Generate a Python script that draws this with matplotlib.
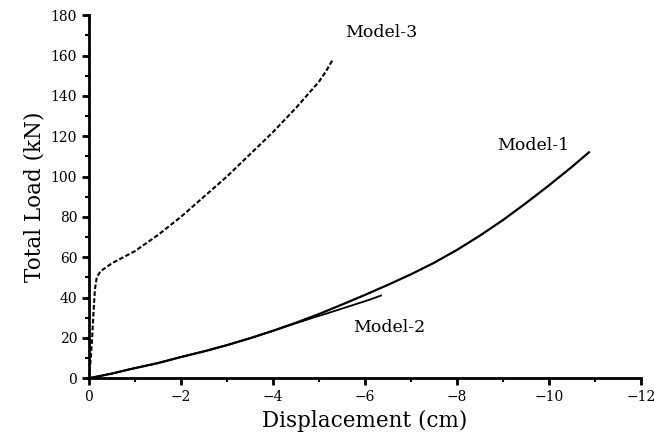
import numpy as np
import matplotlib.pyplot as plt
from matplotlib.ticker import MultipleLocator

# displacement (cm) and total load (kN)
x_m1 = np.array([0, -0.5, -0.9, -1.5, -2, -2.5, -3, -3.5, -4, -4.5, -5, -5.5,
                 -6, -6.5, -7, -7.5, -8, -8.5, -9, -9.5, -10, -10.5, -10.87])
y_m1 = np.array([0, 2.3, 4.5, 7.5, 10.5, 13.3, 16.4, 19.8, 23.5, 27.5, 31.8, 36.5,
                 41.3, 46.3, 51.5, 57.2, 63.6, 70.7, 78.4, 86.8, 95.6, 104.8, 112])

x_m2 = np.array([0, -0.5, -0.9, -1.5, -2, -2.5, -3, -3.5, -4, -4.3, -4.6,
                 -4.9, -5.2, -5.5, -5.8, -6.1, -6.35])
y_m2 = np.array([0, 2.3, 4.5, 7.5, 10.5, 13.3, 16.4, 19.8, 23.5, 25.8, 28,
                 30.2, 32.3, 34.5, 36.7, 38.9, 41])

x_m3 = np.array([0, -0.04, -0.07, -0.1, -0.13, -0.17, -0.25, -0.5, -0.75, -1,
                 -1.25, -1.5, -1.75, -2, -2.25, -2.5, -2.75, -3, -3.25, -3.5,
                 -3.75, -4, -4.25, -4.5, -4.75, -5, -5.15, -5.3])
y_m3 = np.array([0, 10, 20, 33, 44, 50, 53, 57, 60, 63,
                 67, 71, 75.5, 80, 85, 90, 95, 100, 105.5, 111,
                 116.5, 122, 128, 134, 140.5, 147, 152, 158])

plt.rcParams['font.family'] = 'DejaVu Serif'

fig = plt.figure(figsize=(6.54, 4.46), dpi=100)
ax = fig.add_axes([0.136, 0.152, 0.844, 0.814])

ax.plot(x_m1, y_m1, color='black', lw=1.6)
ax.plot(x_m2, y_m2, color='black', lw=1.3)
ax.plot(x_m3, y_m3, color='black', lw=1.5, linestyle=(0, (2.2, 1.1)))

ax.text(-5.57, 171.5, 'Model-3', fontsize=12.5, va='center')
ax.text(-8.87, 115.5, 'Model-1', fontsize=12.5, va='center')
ax.text(-5.74, 25.3, 'Model-2', fontsize=12.5, va='center')

ax.set_xlim(0, -12)
ax.set_ylim(0, 180)
ax.xaxis.set_major_locator(MultipleLocator(2))
ax.xaxis.set_minor_locator(MultipleLocator(1))
ax.yaxis.set_major_locator(MultipleLocator(20))
ax.yaxis.set_minor_locator(MultipleLocator(10))

for s in ['top', 'right']:
    ax.spines[s].set_visible(False)
for s in ['left', 'bottom']:
    ax.spines[s].set_linewidth(2)
ax.tick_params(which='major', direction='out', length=5, width=2, labelsize=10)
ax.tick_params(which='minor', direction='out', length=3, width=1.5)

ax.set_xlabel('Displacement (cm)', fontsize=15.5)
ax.set_ylabel('Total Load (kN)', fontsize=15.5)

plt.savefig('out.png', dpi=100)
